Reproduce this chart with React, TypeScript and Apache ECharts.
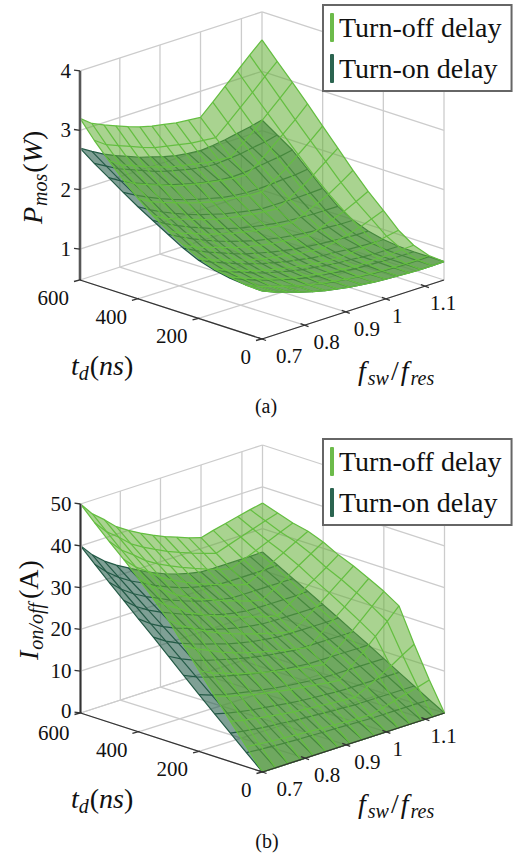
import React, { useEffect, useRef } from "react";
import * as echarts from "echarts";

const tValues = [600, 550, 500, 450, 400, 350, 300, 250, 200, 150, 100, 50, 0];
const fValues = [0.7, 0.73, 0.76, 0.79, 0.82, 0.85, 0.88, 0.91, 0.94, 0.97, 1.0, 1.03, 1.06, 1.09, 1.12, 1.15];

const powerTurnOn = [
  [2.70,2.58,2.47,2.38,2.30,2.22,2.16,2.10,2.05,2.02,2.00,2.02,2.05,2.09,2.13,2.18],
  [2.52,2.41,2.30,2.22,2.14,2.06,2.00,1.95,1.90,1.87,1.85,1.87,1.89,1.93,1.96,2.01],
  [2.36,2.24,2.14,2.06,1.98,1.91,1.86,1.80,1.76,1.73,1.71,1.72,1.74,1.77,1.80,1.84],
  [2.19,2.08,1.98,1.89,1.81,1.74,1.68,1.63,1.58,1.55,1.53,1.53,1.54,1.56,1.57,1.60],
  [2.03,1.91,1.81,1.72,1.64,1.57,1.51,1.45,1.41,1.37,1.34,1.34,1.34,1.34,1.35,1.36],
  [1.88,1.76,1.66,1.57,1.49,1.41,1.35,1.29,1.25,1.21,1.18,1.16,1.15,1.14,1.14,1.14],
  [1.73,1.62,1.52,1.43,1.35,1.28,1.22,1.16,1.12,1.08,1.05,1.03,1.01,1.00,0.99,0.99],
  [1.58,1.47,1.38,1.30,1.22,1.15,1.10,1.05,1.01,0.975,0.95,0.93,0.915,0.90,0.89,0.89],
  [1.46,1.36,1.28,1.20,1.13,1.07,1.02,0.97,0.94,0.90,0.88,0.87,0.85,0.84,0.83,0.83],
  [1.38,1.28,1.21,1.13,1.06,1.01,0.96,0.92,0.89,0.86,0.84,0.83,0.81,0.80,0.80,0.80],
  [1.33,1.24,1.16,1.09,1.03,0.97,0.93,0.89,0.87,0.84,0.82,0.81,0.80,0.79,0.79,0.79],
  [1.30,1.21,1.14,1.07,1.01,0.955,0.915,0.88,0.855,0.83,0.81,0.80,0.79,0.785,0.785,0.79],
  [1.29,1.20,1.13,1.06,1.00,0.95,0.91,0.875,0.85,0.825,0.81,0.80,0.79,0.785,0.785,0.79],
];

const powerTurnOff = [
  [3.20,3.05,2.96,2.88,2.80,2.73,2.68,2.64,2.60,2.58,2.56,2.75,2.95,3.14,3.34,3.53],
  [2.91,2.77,2.69,2.61,2.53,2.46,2.42,2.38,2.34,2.32,2.30,2.48,2.67,2.86,3.06,3.25],
  [2.65,2.51,2.43,2.35,2.28,2.21,2.17,2.13,2.09,2.07,2.05,2.22,2.40,2.59,2.78,2.98],
  [2.40,2.27,2.19,2.12,2.04,1.98,1.94,1.90,1.87,1.84,1.83,1.97,2.14,2.32,2.50,2.70],
  [2.17,2.05,1.97,1.90,1.83,1.77,1.72,1.69,1.66,1.63,1.62,1.75,1.89,2.06,2.23,2.41],
  [1.96,1.85,1.77,1.70,1.63,1.57,1.53,1.49,1.46,1.44,1.42,1.53,1.65,1.80,1.96,2.12],
  [1.79,1.68,1.61,1.53,1.47,1.41,1.37,1.33,1.31,1.28,1.27,1.36,1.46,1.56,1.69,1.83],
  [1.63,1.53,1.46,1.39,1.32,1.27,1.23,1.19,1.17,1.14,1.13,1.19,1.27,1.35,1.45,1.56],
  [1.50,1.40,1.33,1.26,1.20,1.15,1.11,1.07,1.04,1.02,1.00,1.05,1.10,1.16,1.24,1.32],
  [1.40,1.31,1.24,1.17,1.11,1.06,1.02,0.98,0.955,0.93,0.915,0.94,0.96,0.985,1.03,1.07],
  [1.35,1.26,1.19,1.11,1.05,1.00,0.96,0.93,0.90,0.88,0.86,0.86,0.87,0.87,0.89,0.90],
  [1.30,1.21,1.14,1.07,1.01,0.96,0.92,0.89,0.86,0.84,0.82,0.81,0.805,0.80,0.80,0.81],
  [1.29,1.20,1.13,1.06,1.00,0.95,0.91,0.875,0.85,0.825,0.81,0.80,0.79,0.785,0.785,0.79],
];

const currentTurnOn = [
  [40,36.9,34.5,32.6,31,29.4,28,26.8,25.8,25,24.4,24.3,24.3,24.3,24.3,24.4],
  [36.7,33.9,31.7,29.9,28.5,27.0,25.7,24.6,23.7,23.0,22.4,22.3,22.3,22.3,22.3,22.4],
  [33.5,30.9,28.9,27.3,26.0,24.6,23.5,22.5,21.6,21.0,20.4,20.4,20.4,20.4,20.4,20.4],
  [30.3,27.9,26.1,24.7,23.5,22.3,21.2,20.3,19.5,18.9,18.5,18.4,18.4,18.4,18.4,18.5],
  [27.0,24.9,23.3,22.0,21.0,19.9,18.9,18.1,17.4,16.9,16.5,16.4,16.4,16.4,16.4,16.5],
  [23.8,21.9,20.5,19.4,18.4,17.5,16.6,15.9,15.3,14.9,14.5,14.4,14.4,14.4,14.4,14.5],
  [20.4,18.8,17.6,16.6,15.8,15.0,14.3,13.7,13.2,12.8,12.4,12.4,12.4,12.4,12.4,12.4],
  [17.0,15.7,14.7,13.9,13.2,12.5,11.9,11.4,11.0,10.7,10.4,10.4,10.4,10.4,10.4,10.4],
  [13.6,12.5,11.7,11.1,10.5,10.0,9.5,9.1,8.8,8.5,8.3,8.3,8.3,8.3,8.3,8.3],
  [10.2,9.4,8.8,8.3,7.9,7.5,7.1,6.8,6.6,6.4,6.2,6.2,6.2,6.2,6.2,6.2],
  [6.8,6.3,5.9,5.5,5.3,5.0,4.8,4.6,4.4,4.3,4.1,4.1,4.1,4.1,4.1,4.1],
  [3.4,3.1,2.9,2.7,2.6,2.5,2.4,2.3,2.2,2.1,2.0,2.0,2.0,2.0,2.0,2.0],
  [0,0,0,0,0,0,0,0,0,0,0,0,0,0,0,0],
];

const currentTurnOff = [
  [50,46.7,44.4,41.8,40,38.4,37,35.7,34.6,33.5,32.6,33.4,34.1,34.8,35.5,36.1],
  [46.6,43.5,41.3,38.8,37.1,35.6,34.2,33.0,31.9,30.9,30.0,31.0,32.0,33.0,34.0,34.9],
  [43.3,40.3,38.2,35.9,34.2,32.8,31.5,30.3,29.2,28.2,27.4,28.7,29.9,31.2,32.5,33.7],
  [40.1,37.3,35.3,33.0,31.4,30.0,28.7,27.6,26.6,25.6,24.8,26.4,28.0,29.6,31.3,32.9],
  [36.7,34.0,32.1,30.0,28.5,27.1,26.0,24.8,23.9,22.9,22.2,24.0,25.8,27.7,29.6,31.5],
  [33.0,30.5,28.8,26.8,25.4,24.2,23.1,22.1,21.2,20.3,19.6,21.5,23.5,25.5,27.5,29.6],
  [29.0,26.8,25.2,23.5,22.2,21.1,20.1,19.2,18.4,17.6,17.0,19.1,21.2,23.5,25.8,28.1],
  [24.2,22.4,21.1,19.7,18.6,17.7,16.9,16.2,15.5,14.9,14.3,16.6,19.0,21.3,23.8,26.3],
  [19.3,17.8,16.8,15.7,14.9,14.1,13.5,12.9,12.4,11.9,11.4,13.9,16.4,19.0,21.7,24.4],
  [14.5,13.4,12.7,11.9,11.3,10.8,10.3,9.9,9.5,9.1,8.8,11.3,13.8,16.6,19.3,22.1],
  [9.6,8.9,8.4,7.9,7.5,7.1,6.8,6.6,6.3,6.1,5.9,7.4,9.0,10.6,12.4,14.1],
  [4.8,4.5,4.2,4.0,3.8,3.6,3.4,3.3,3.1,3.0,2.9,3.6,4.4,5.2,5.9,6.7],
  [0,0,0,0,0,0,0,0,0,0,0,0,0,0,0,0],
];

const tTicks = [600, 400, 200, 0];
const fTicks = [0.7, 0.8, 0.9, 1, 1.1];
const powerTicks = [1, 2, 3, 4];
const currentTicks = [0, 10, 20, 30, 40, 50];
const seriesOff = "Turn-off delay";
const seriesOn = "Turn-on delay";

const SERIF = '"Liberation Serif"';
const TEXT = "#111111";
const GRID = "#cccccc";
const AXIS = "#333333";
const OFF_FILL = "rgba(98,175,52,0.55)";
const OFF_EDGE = "#64be40";
const ON_FILL = "rgba(42,96,78,0.6)";
const ON_EDGE = "#235a46";
const fLabelDx = [14, 9, 8, 6, 5];

type Panel = { x0: number; y0: number; zMin: number; zMax: number; scale: number; dy: number; zTicks: number[]; on: number[][]; off: number[][] };
const panels: Panel[] = [
  { x0: 80, y0: 280, zMin: 0.48, zMax: 4, scale: 59.4, dy: 0, zTicks: powerTicks, on: powerTurnOn, off: powerTurnOff },
  { x0: 80.5, y0: 713, zMin: 0, zMax: 50, scale: 4.18, dy: 433, zTicks: currentTicks, on: currentTurnOn, off: currentTurnOff },
];

const project = (p: Panel, t: number, f: number, z: number): number[] => {
  const u0 = (600 - t) / 600;
  const v0 = (f - 0.7) / 0.45;
  const cv = -0.02 + 0.086 * u0;
  const v = (v0 * (1 + cv)) / (1 + cv * v0);
  const cu = -0.066 * (1 - v0);
  const u = (u0 * (1 + cu)) / (1 + cu * u0);
  return [p.x0 + 182 * (u + v), p.y0 + 59 * (u - v) - (z - p.zMin) * p.scale];
};

const surfaceSeries = (p: Panel, rows: number[][], name: string, fill: string, z: number, legendColor: string) => {
  const cells: number[][][] = [];
  for (let i = 0; i < tValues.length - 1; i++) {
    for (let j = fValues.length - 2; j >= 0; j--) {
      cells.push([
        project(p, tValues[i], fValues[j], rows[i][j]),
        project(p, tValues[i], fValues[j + 1], rows[i][j + 1]),
        project(p, tValues[i + 1], fValues[j + 1], rows[i + 1][j + 1]),
        project(p, tValues[i + 1], fValues[j], rows[i + 1][j]),
      ]);
    }
  }
  return {
    type: "custom",
    name,
    coordinateSystem: "cartesian2d",
    z,
    silent: true,
    itemStyle: { color: legendColor },
    data: cells.map((c) => c[0]),
    renderItem: (params: any, api: any) => ({
      type: "polygon",
      shape: { points: cells[params.dataIndex].map((q) => api.coord(q)) },
      style: { fill },
    }),
  };
};

const meshSeries = (p: Panel, rows: number[][], edge: string, width: number, z: number) => {
  const lines: number[][][] = [];
  tValues.forEach((t, i) => lines.push(fValues.map((f, j) => project(p, t, f, rows[i][j]))));
  fValues.forEach((f, j) => lines.push(tValues.map((t, i) => project(p, t, f, rows[i][j]))));
  return {
    type: "custom",
    coordinateSystem: "cartesian2d",
    z,
    silent: true,
    data: lines.map((l) => l[0]),
    renderItem: (params: any, api: any) => ({
      type: "polyline",
      shape: { points: lines[params.dataIndex].map((q) => api.coord(q)) },
      style: { fill: "none", stroke: edge, lineWidth: width, lineJoin: "round" },
    }),
  };
};

const lineSeries = (segs: number[][][], color: string, width: number, z: number) => ({
  type: "custom",
  coordinateSystem: "cartesian2d",
  z,
  silent: true,
  data: segs.map((s) => s[0]),
  renderItem: (params: any, api: any) => {
    const s = segs[params.dataIndex];
    const a = api.coord(s[0]);
    const b = api.coord(s[1]);
    return { type: "line", shape: { x1: a[0], y1: a[1], x2: b[0], y2: b[1] }, style: { stroke: color, lineWidth: width } };
  },
});

const gridSegments = (p: Panel) => {
  const segs: number[][][] = [];
  const P = (t: number, f: number, z: number) => project(p, t, f, z);
  const fLines = [...fTicks, 1.15];
  const tLines = [...tTicks];
  fLines.forEach((f) => {
    segs.push([P(600, f, p.zMin), P(0, f, p.zMin)]);
    if (f > 0.7) segs.push([P(600, f, p.zMin), P(600, f, p.zMax)]);
  });
  tLines.forEach((t) => {
    segs.push([P(t, 0.7, p.zMin), P(t, 1.15, p.zMin)]);
    if (t < 600) segs.push([P(t, 1.15, p.zMin), P(t, 1.15, p.zMax)]);
  });
  p.zTicks.forEach((z) => {
    segs.push([P(600, 0.7, z), P(600, 1.15, z)]);
    segs.push([P(600, 1.15, z), P(0, 1.15, z)]);
  });
  return segs;
};

const axisSegments = (p: Panel) => {
  const segs: number[][][] = [];
  const P = (t: number, f: number, z: number) => project(p, t, f, z);
  segs.push([P(600, 0.7, p.zMin), P(0, 0.7, p.zMin)]);
  segs.push([P(0, 0.7, p.zMin), P(0, 1.15, p.zMin)]);
  segs.push([P(600, 0.7, p.zMin), P(600, 0.7, p.zMax)]);
  tTicks.forEach((t) => {
    const a = P(t, 0.7, p.zMin);
    segs.push([[a[0] - 6, a[1] + 1.5], [a[0] + 1, a[1] - 0.4]]);
  });
  fTicks.forEach((f) => {
    const a = P(0, f, p.zMin);
    segs.push([[a[0] - 4, a[1] - 1.5], [a[0] + 4, a[1] + 1.5]]);
  });
  p.zTicks.forEach((z) => {
    const a = P(600, 0.7, z);
    segs.push([[a[0] - 6, a[1] - 0.8], [a[0], a[1]]]);
  });
  return segs;
};

type Label = { at: number[]; text: string; align: string };
const panelLabels = (p: Panel): Label[] => {
  const out: Label[] = [];
  tTicks.forEach((t) => {
    const a = project(p, t, 0.7, p.zMin);
    out.push({ at: [a[0] - 11, a[1] + 18 + (t === 600 && p.dy > 0 ? 1.5 : 0)], text: String(t), align: "right" });
  });
  fTicks.forEach((f, i) => {
    const a = project(p, 0, f, p.zMin);
    out.push({ at: [a[0] + fLabelDx[i], a[1] + 17], text: String(f), align: "left" });
  });
  p.zTicks.forEach((z) => {
    const a = project(p, 600, 0.7, z);
    out.push({ at: [a[0] - 9, a[1] - (z === 0 ? 2.5 : 0)], text: String(z), align: "right" });
  });
  return out;
};

const labelSeries = (labels: Label[]) => ({
  type: "custom",
  coordinateSystem: "cartesian2d",
  z: 8,
  silent: true,
  data: labels.map((l) => l.at),
  renderItem: (params: any, api: any) => {
    const l = labels[params.dataIndex];
    const c = api.coord(l.at);
    return {
      type: "text",
      x: c[0],
      y: c[1],
      style: { text: l.text, fill: TEXT, fontFamily: SERIF, fontSize: 21, align: l.align, verticalAlign: "middle" },
    };
  },
});

type Run = { text: string; italic?: boolean; sub?: boolean; gap?: number };
const ctx = typeof document !== "undefined" ? document.createElement("canvas").getContext("2d") : null;
const mathText = (x: number, y: number, runs: Run[], rotation: number, size: number, subSize: number) => {
  let cx = 0;
  const children: any[] = [];
  runs.forEach((r) => {
    const s = r.sub ? subSize : size;
    const font = `${r.italic ? "italic " : ""}${s}px ${SERIF}`;
    if (ctx) ctx.font = font;
    const w = ctx ? ctx.measureText(r.text).width : s * 0.5;
    children.push({
      type: "text",
      x: cx,
      y: r.sub ? 0.32 * (size - subSize) + 5 : 0,
      style: { text: r.text, font, fill: TEXT, align: "left", verticalAlign: "middle" },
    });
    cx += w + (r.gap ?? 1);
  });
  return { type: "group", x, y, rotation, z: 8, children };
};

const legendOf = (top: number) => ({
  left: 323,
  top,
  orient: "vertical",
  data: [seriesOff, seriesOn],
  selectedMode: false,
  icon: "roundRect",
  itemWidth: 4,
  itemHeight: 29,
  itemGap: 12,
  padding: [8, 10, 8, 7],
  backgroundColor: "#ffffff",
  borderColor: "#666666",
  borderWidth: 2,
  borderRadius: 0,
  z: 10,
  textStyle: { fontFamily: SERIF, fontSize: 28, color: TEXT },
});

export default function App() {
  const ref = useRef<HTMLDivElement>(null);
  useEffect(() => {
    document.body.style.margin = "0";
    const chart = echarts.init(ref.current!, undefined, { renderer: "svg" });
    const series: any[] = [];
    panels.forEach((p) => {
      series.push(lineSeries(gridSegments(p), GRID, 1.3, 1));
      series.push(surfaceSeries(p, p.on, seriesOn, ON_FILL, 2, "#2b6450"));
      series.push(meshSeries(p, p.on, ON_EDGE, 1.2, 3));
      series.push(surfaceSeries(p, p.off, seriesOff, OFF_FILL, 4, "#6cbb4a"));
      series.push(meshSeries(p, p.off, OFF_EDGE, 1.25, 5));
      series.push(lineSeries([[project(p, 600, 0.7, p.zMin), project(p, 600, 0.7, p.zMax)]], "#9a9a9a", 3, 6));
      series.push(lineSeries(axisSegments(p), AXIS, 1.3, 7));
      series.push(labelSeries(panelLabels(p)));
    });
    const text = (x: number, y: number, s: string) => ({
      type: "text",
      x,
      y,
      z: 8,
      style: { text: s, font: `20px ${SERIF}`, fill: TEXT, align: "center", verticalAlign: "middle" },
    });
    const td: Run[] = [
      { text: "t", italic: true, gap: 0 },
      { text: "d", italic: true, sub: true, gap: 1 },
      { text: "(", gap: 0 },
      { text: "ns", italic: true, gap: 0 },
      { text: ")", gap: 0 },
    ];
    const fr: Run[] = [
      { text: "f", italic: true, gap: 2 },
      { text: "sw", italic: true, sub: true, gap: 2 },
      { text: "/", gap: 2 },
      { text: "f", italic: true, gap: 2 },
      { text: "res", italic: true, sub: true },
    ];
    chart.setOption({
      animation: false,
      tooltip: { show: false },
      grid: { left: 0, right: 0, top: 0, bottom: 0 },
      xAxis: { type: "value", min: 0, max: 514, show: false },
      yAxis: { type: "value", min: 0, max: 854, inverse: true, show: false },
      legend: [legendOf(5), legendOf(439)],
      series,
      graphic: {
        elements: [
          mathText(32, 224, [
            { text: "P", italic: true, gap: 1 },
            { text: "mos", italic: true, sub: true, gap: 1 },
            { text: "(", gap: 0 },
            { text: "W", italic: true, gap: 0 },
            { text: ")", gap: 0 },
          ], Math.PI / 2, 28, 20),
          mathText(28, 660, [
            { text: "I", italic: true, gap: 1 },
            { text: "on", italic: true, sub: true, gap: 0 },
            { text: "/", italic: true, sub: true, gap: 0 },
            { text: "off", italic: true, sub: true, gap: 4 },
            { text: "(", gap: 0 },
            { text: "A", gap: 0 },
            { text: ")", gap: 0 },
          ], Math.PI / 2, 28, 20),
          mathText(71, 365, td, 0, 28, 20),
          mathText(71, 798, td, 0, 28, 20),
          mathText(358, 370, fr, 0, 28, 20),
          mathText(358, 803, fr, 0, 28, 20),
          text(266, 406, "(a)"),
          text(267, 841, "(b)"),
        ],
      },
    });
    return () => chart.dispose();
  }, []);
  return <div ref={ref} style={{ width: 514, height: 854 }} />;
}
